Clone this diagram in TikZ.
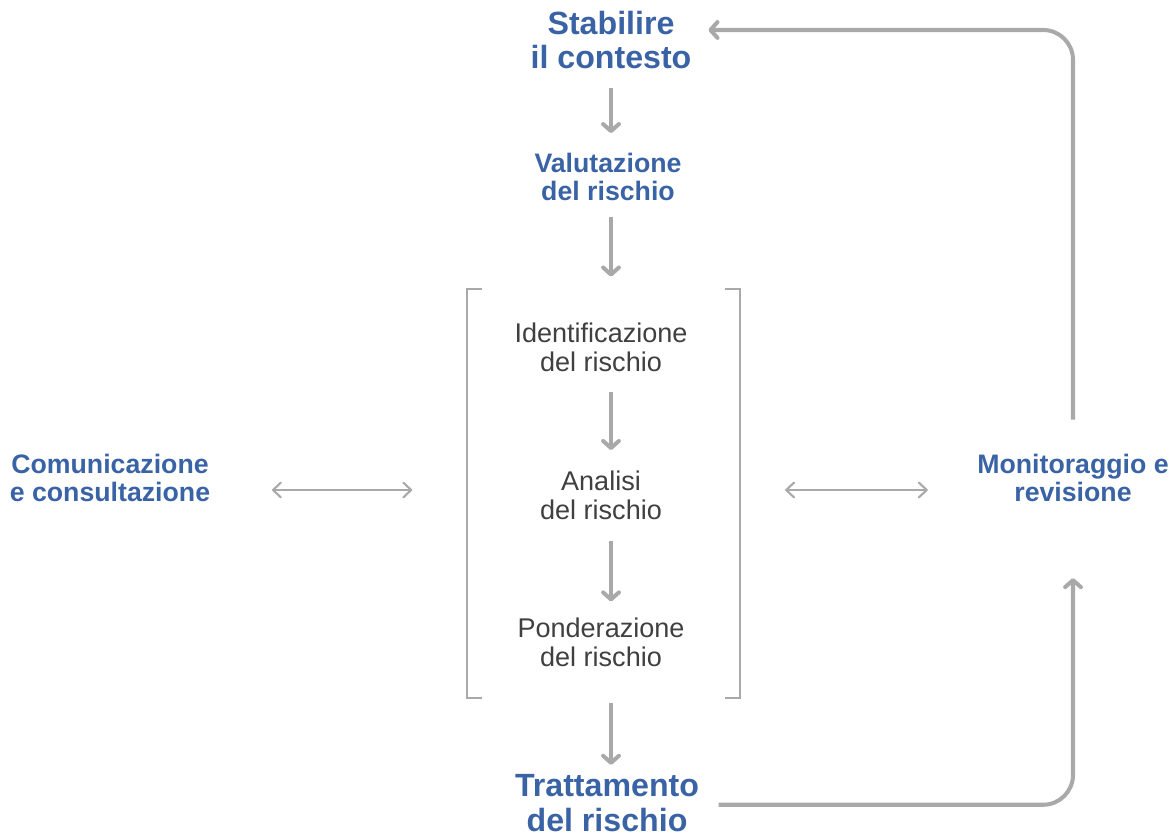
\documentclass[tikz,border=0pt]{standalone}
\usepackage{fontspec}
\setmainfont{Liberation Sans}
\usetikzlibrary{arrows.meta, positioning}

% colori del diagramma
\definecolor{blurischio}{HTML}{3A63A5}
\definecolor{grigiolinea}{HTML}{A9A9A9}
\definecolor{grigiotesto}{HTML}{404040}

\begin{document}
\begin{tikzpicture}[x=0.02cm, y=-0.02cm,
    titolo/.style={text=blurischio, font=\bfseries\fontsize{18.3}{19.7}\selectfont, align=center, inner sep=0pt},
    voce/.style={text=blurischio, font=\bfseries\fontsize{15.2}{16.4}\selectfont, align=center, inner sep=0pt},
    fase/.style={text=grigiotesto, font=\fontsize{15.4}{16.5}\selectfont, align=center, inner sep=0pt},
    flusso/.style={draw=grigiolinea, line width=2.3pt, -{Straight Barb[length=4pt, width=9pt, round]}},
    scambio/.style={draw=grigiolinea, line width=1.2pt, {Straight Barb[length=4.5pt, width=8.5pt, round]}-{Straight Barb[length=4.5pt, width=8.5pt, round]}},
    parentesi/.style={draw=grigiolinea, line width=1.1pt}]
    \useasboundingbox (0,0) rectangle (1175,838);

    % Nodi del processo
    \node (stabilire) [titolo] at (611,40) {Stabilire\\il contesto};
    \node (valutazione) [voce] at (608,177) {Valutazione\\del rischio};
    \node (identificazione) [fase] at (601,347) {Identificazione\\del rischio};
    \node (analisi) [fase] at (601,495) {Analisi\\del rischio};
    \node (ponderazione) [fase] at (601,642) {Ponderazione\\del rischio};
    \node (trattamento) [titolo] at (607,803) {Trattamento\\del rischio};
    \node (comunicazione) [voce] at (110,478) {Comunicazione\\e consultazione};
    \node (monitoraggio) [voce] at (1073,478) {Monitoraggio e\\revisione};
    \node (processo) [minimum width=5.46cm, minimum height=8.18cm, inner sep=0pt] at (603.5,493.5) {};
    \coordinate (asse) at (611,0);
    \coordinate (centro) at (0,490);

    % Parentesi attorno alla valutazione
    \draw[parentesi] ([xshift=9pt]processo.north west) -- (processo.north west) -- (processo.south west) -- ([xshift=9pt]processo.south west);
    \draw[parentesi] ([xshift=-9pt]processo.north east) -- (processo.north east) -- (processo.south east) -- ([xshift=-9pt]processo.south east);

    % Frecce verticali
    \draw[flusso, shorten <=10.5pt, shorten >=11pt] (stabilire.south -| asse) -- (valutazione.north -| asse);
    \draw[flusso, shorten <=9pt, shorten >=26pt] (valutazione.south -| asse) -- (identificazione.north -| asse);
    \draw[flusso, shorten <=11.5pt, shorten >=11.5pt] (identificazione.south -| asse) -- (analisi.north -| asse);
    \draw[flusso, shorten <=12pt, shorten >=9pt] (analisi.south -| asse) -- (ponderazione.north -| asse);
    \draw[flusso, shorten <=20.5pt, shorten >=5.3pt] (ponderazione.south -| asse) -- (trattamento.north -| asse);

    % Comunicazione e monitoraggio
    \draw[scambio, shorten <=35pt, shorten >=31pt] (comunicazione.east |- centro) -- (processo.west |- centro);
    \draw[scambio, shorten <=25.5pt, shorten >=28pt] (processo.east |- centro) -- (monitoraggio.west |- centro);

    % Ciclo di ritorno
    \draw[flusso, rounded corners=17pt, shorten <=11pt, shorten >=43pt] ([yshift=-1pt]trattamento.east) -| (monitoraggio.south);
    \draw[flusso, rounded corners=17pt, shorten <=19.3pt, shorten >=9.5pt] (monitoraggio.north) |- ([yshift=5.7pt]stabilire.east);
\end{tikzpicture}
\end{document}
